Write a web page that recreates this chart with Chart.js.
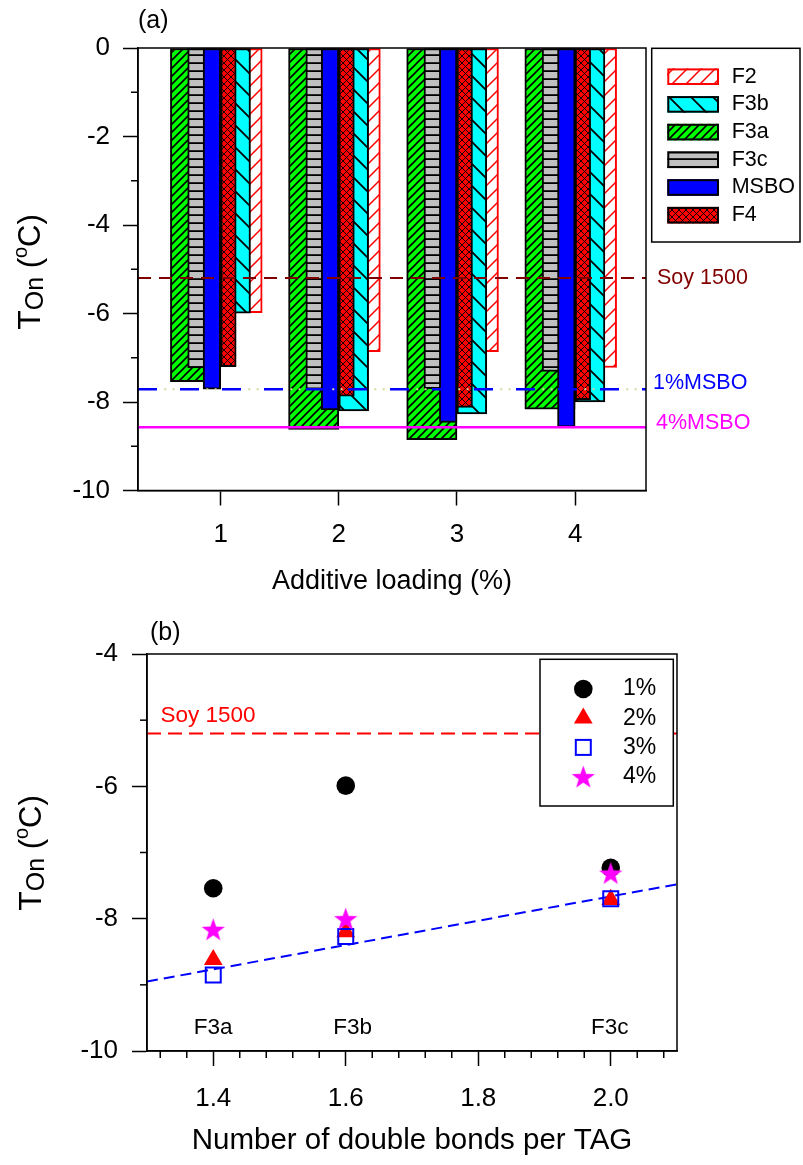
<!DOCTYPE html>
<html>
<head>
<meta charset="utf-8">
<title>Onset crystallization temperature</title>
<script src="https://cdn.jsdelivr.net/npm/chart.js@4.4.1/dist/chart.umd.min.js"></script>
<style>
  html, body { margin: 0; padding: 0; background: #ffffff; }
  .panel { position: absolute; left: 0; }
  #panelA { top: 0; }
  #panelB { top: 600px; }
</style>
</head>
<body>
<canvas id="panelA" class="panel" width="803" height="600"></canvas>
<canvas id="panelB" class="panel" width="803" height="565"></canvas>
<script>
// ---------- panel (a): onset temperature vs additive loading ----------
const loadings = [1, 2, 3, 4];
const seriesNames = ['F2', 'F3b', 'F3a', 'F3c', 'MSBO', 'F4'];
const f2   = [-5.98, -6.86, -6.86, -7.22];
const f3b  = [-5.99, -8.20, -8.27, -8.00];
const f3a  = [-7.54, -8.62, -8.85, -8.16];
const f3c  = [-7.23, -7.71, -7.70, -7.31];
const msbo = [-7.71, -8.18, -8.46, -8.57];
const f4   = [-7.20, -7.87, -8.12, -7.95];
const yTicksA = [-10, -8, -6, -4, -2, 0];
const soy1500 = -5.2;
const refLabels = ['Soy 1500', '1%MSBO', '4%MSBO'];
const refValues = [soy1500, msbo[0], msbo[3]];

// ---------- panel (b): onset temperature vs unsaturation ----------
const doubleBonds = [1.4, 1.6, 2.0];
const fractionNames = ['F3a', 'F3b', 'F3c'];
const loadingLabels = ['1%', '2%', '3%', '4%'];
const fitX = [1.3, 2.1];
const fitY = [-8.95, -7.48];
const xTicksB = [1.4, 1.6, 1.8, 2.0];
const yTicksB = [-10, -8, -6, -4];

const FONT = "'Liberation Sans', Arial, Helvetica, sans-serif";
Chart.defaults.font.family = FONT;
Chart.defaults.color = '#000000';

// ---------- fill patterns ----------
function tile(size, bg, fg, lw, strokes) {
  const c = document.createElement('canvas');
  c.width = size; c.height = size;
  const g = c.getContext('2d');
  g.fillStyle = bg; g.fillRect(0, 0, size, size);
  g.strokeStyle = fg; g.lineWidth = lw;
  g.beginPath();
  strokes.forEach(k => {
    if (k === '/') [-size, 0, size].forEach(o => { g.moveTo(o - 1, size + 1); g.lineTo(o + size + 1, -1); });
    if (k === '\\') [-size, 0, size].forEach(o => { g.moveTo(o - 1, -1); g.lineTo(o + size + 1, size + 1); });
    if (k === '-') { g.moveTo(0, size - lw / 2); g.lineTo(size, size - lw / 2); }
  });
  g.stroke();
  return g.createPattern(c, 'repeat');
}

const fills = {
  F2:   tile(14, '#ffffff', '#ff0000', 1.5, ['/']),
  F3b:  tile(22, '#00ffff', '#000000', 1.8, ['\\']),
  F3a:  tile(8,  '#00ff00', '#000000', 1.6, ['/']),
  F3c:  tile(8,  '#c0c0c0', '#000000', 1.8, ['-']),
  MSBO: '#0000ff',
  F4:   tile(7,  '#ff0000', '#000000', 0.9, ['/', '\\'])
};
const edges = { F2: '#ff0000', F3b: '#000000', F3a: '#000000', F3c: '#000000', MSBO: '#000000', F4: '#000000' };
const valuesA = { F2: f2, F3b: f3b, F3a: f3a, F3c: f3c, MSBO: msbo, F4: f4 };

// bar placement around each loading tick: [centre offset px, width px, draw order]
const barGeom = {
  F2:   [20.75, 41.5, 5],
  F3b:  [14.9, 29.8, 4],
  F3a:  [-25.15, 50.3, 2],
  F3c:  [-16.5, 33, 1],
  MSBO: [-8.8, 17.6, 0],
  F4:   [7.75, 15.5, 3]
};

const areaA = { left: 138, right: 646, top: 48, bottom: 490.5 };
const xRangeA = [0.3, 4.6];
const pxPerUnitA = (areaA.right - areaA.left) / (xRangeA[1] - xRangeA[0]);

function line(ctx, x1, y1, x2, y2) {
  ctx.beginPath(); ctx.moveTo(x1, y1); ctx.lineTo(x2, y2); ctx.stroke();
}

// rotated "T_On (°C)" title
function drawAxisTitle(ctx, x, cy) {
  const parts = [
    { t: 'T', f: 32, dy: 0 },
    { t: 'On', f: 25, dy: 3 },
    { t: ' (', f: 31, dy: 0 },
    { t: 'o', f: 20, dy: -13 },
    { t: 'C)', f: 31, dy: 0 }
  ];
  ctx.save();
  ctx.fillStyle = '#000000';
  ctx.textBaseline = 'alphabetic';
  ctx.textAlign = 'left';
  let total = 0;
  parts.forEach(p => { ctx.font = p.f + 'px ' + FONT; p.w = ctx.measureText(p.t).width; total += p.w; });
  ctx.translate(x, cy);
  ctx.rotate(-Math.PI / 2);
  let px = -total / 2;
  parts.forEach(p => { ctx.font = p.f + 'px ' + FONT; ctx.fillText(p.t, px, p.dy); px += p.w; });
  ctx.restore();
}

const axisGrid = { display: true, drawOnChartArea: false, drawTicks: true, offset: false, tickLength: 15, tickWidth: 1.5, tickColor: '#000000' };
const axisBorder = { display: true, color: '#000000', width: 1.5 };

// ---------- chart (a) ----------
const scalesA = {
  x: {
    type: 'linear', position: 'bottom', min: xRangeA[0], max: xRangeA[1], offset: false,
    afterBuildTicks: s => { s.ticks = loadings.map(v => ({ value: v })); },
    afterFit: s => { s.height = 600 - areaA.bottom; },
    grid: axisGrid, border: axisBorder,
    ticks: { font: { size: 26 }, padding: 14, maxRotation: 0, autoSkip: false, callback: v => String(v) },
    title: { display: true, text: 'Additive loading (%)', font: { size: 27 }, padding: { top: 0, bottom: 2 } }
  },
  y: {
    type: 'linear', min: -10, max: 0,
    afterBuildTicks: s => { s.ticks = yTicksA.map(v => ({ value: v })); },
    afterFit: s => { s.width = areaA.left; },
    grid: axisGrid, border: axisBorder,
    ticks: { font: { size: 26 }, padding: 13, callback: v => String(v) }
  }
};
seriesNames.forEach(n => {
  const shift = barGeom[n][0] / pxPerUnitA;
  scalesA['x_' + n] = { type: 'linear', display: false, offset: false, min: xRangeA[0] - shift, max: xRangeA[1] - shift };
});

const refStyles = [
  { color: '#800000', width: 2, dash: [13, 8], dx: 11, dy: 0 },
  { color: '#0000ff', width: 2.5, dash: [19, 23], dx: 7, dy: -6 },
  { color: '#ff00ff', width: 2.5, dash: [], dx: 10, dy: -4 }
];

const panelAPlugin = {
  id: 'panelADecor',
  afterDatasetsDraw(chart) {
    const { ctx, chartArea: a, scales: { y } } = chart;
    ctx.save();
    refValues.forEach((v, i) => {
      const st = refStyles[i];
      const py = y.getPixelForValue(v);
      ctx.strokeStyle = st.color; ctx.lineWidth = st.width; ctx.setLineDash(st.dash);
      line(ctx, a.left, py, a.right, py);
      if (i === 1) {
        ctx.strokeStyle = '#d6d6a0'; ctx.lineWidth = 2;
        ctx.setLineDash([2, 6.3, 2, 31.7]); ctx.lineDashOffset = -26.3;
        line(ctx, a.left, py, a.right, py);
        ctx.lineDashOffset = 0;
      }
    });
    ctx.setLineDash([]);
    ctx.strokeStyle = '#000000'; ctx.lineWidth = 1.5;
    ctx.strokeRect(a.left, a.top, a.right - a.left, a.bottom - a.top);
    for (let v = -9; v <= -1; v += 2) {
      const py = y.getPixelForValue(v);
      line(ctx, a.left - 7, py, a.left, py);
    }
    ctx.restore();
  },
  afterDraw(chart) {
    const { ctx, chartArea: a, scales: { y } } = chart;
    ctx.save();
    // reference line captions
    ctx.font = '21.5px ' + FONT; ctx.textAlign = 'left'; ctx.textBaseline = 'middle';
    refValues.forEach((v, i) => {
      ctx.fillStyle = refStyles[i].color;
      ctx.fillText(refLabels[i], a.right + refStyles[i].dx, y.getPixelForValue(v) + refStyles[i].dy);
    });
    // legend
    const lx = 651.7, ly = 48.3, lw = 148.3, lh = 193.7;
    ctx.fillStyle = '#ffffff'; ctx.fillRect(lx, ly, lw, lh);
    ctx.strokeStyle = '#000000'; ctx.lineWidth = 1.5; ctx.strokeRect(lx, ly, lw, lh);
    seriesNames.forEach((n, i) => {
      const cy = 76.7 + i * 27.7;
      ctx.fillStyle = fills[n];
      ctx.fillRect(667.3, cy - 8.3, 51.7, 16.6);
      ctx.strokeStyle = edges[n]; ctx.lineWidth = 2;
      ctx.strokeRect(668.3, cy - 7.3, 49.7, 14.6);
      ctx.fillStyle = '#000000'; ctx.font = '21.5px ' + FONT;
      ctx.fillText(n, 731.7, cy);
    });
    // panel letter and axis title
    ctx.font = '25px ' + FONT; ctx.fillStyle = '#000000';
    ctx.fillText('(a)', 138, 21);
    ctx.restore();
    drawAxisTitle(ctx, 40, 272);
  }
};

new Chart(document.getElementById('panelA'), {
  type: 'bar',
  data: {
    datasets: seriesNames.map(n => ({
      label: n,
      data: loadings.map((x, i) => ({ x: x, y: valuesA[n][i] })),
      xAxisID: 'x_' + n,
      backgroundColor: fills[n],
      borderColor: edges[n],
      borderWidth: 2,
      borderSkipped: false,
      barThickness: barGeom[n][1],
      grouped: false,
      order: barGeom[n][2]
    }))
  },
  options: {
    responsive: false, animation: false, devicePixelRatio: 1, events: [],
    layout: { padding: { top: areaA.top, left: 0, right: 803 - areaA.right, bottom: 0 } },
    plugins: { legend: { display: false }, tooltip: { enabled: false } },
    scales: scalesA
  },
  plugins: [panelAPlugin]
});

// ---------- chart (b) ----------
const areaB = { left: 147, right: 677, top: 54, bottom: 451 };
const onsetByLoading = loadings.map((_, j) => [f3a[j], f3b[j], f3c[j]]);

function starCanvas(R, r, color) {
  const size = Math.ceil(2 * R) + 2;
  const c = document.createElement('canvas');
  c.width = size; c.height = size;
  const g = c.getContext('2d');
  g.fillStyle = color;
  g.beginPath();
  for (let k = 0; k < 10; k++) {
    const ang = -Math.PI / 2 + k * Math.PI / 5;
    const rad = k % 2 === 0 ? R : r;
    g.lineTo(size / 2 + rad * Math.cos(ang), size / 2 + 0.095 * R + rad * Math.sin(ang));
  }
  g.closePath(); g.fill();
  return c;
}
const star = starCanvas(12.2, 4.9, '#ff00ff');

const markerStyles = [
  { pointStyle: 'circle', pointRadius: 9.3, backgroundColor: '#000000', borderColor: '#000000', borderWidth: 0 },
  { pointStyle: 'triangle', pointRadius: 10.8, backgroundColor: '#ff0000', borderColor: '#ff0000', borderWidth: 0 },
  { pointStyle: 'rect', pointRadius: 10.6, backgroundColor: 'rgba(0,0,0,0)', borderColor: '#0000ff', borderWidth: 2 },
  { pointStyle: star, pointRadius: 12, backgroundColor: '#ff00ff', borderColor: '#ff00ff', borderWidth: 0 }
];

function drawMarker(ctx, k, x, y) {
  const m = markerStyles[k];
  ctx.save();
  ctx.fillStyle = m.backgroundColor; ctx.strokeStyle = m.borderColor; ctx.lineWidth = m.borderWidth;
  ctx.beginPath();
  if (k === 0) { ctx.arc(x, y, m.pointRadius, 0, Math.PI * 2); ctx.fill(); }
  if (k === 1) {
    const r = m.pointRadius;
    ctx.moveTo(x, y - r); ctx.lineTo(x + r * Math.sin(2 * Math.PI / 3), y + r / 2);
    ctx.lineTo(x - r * Math.sin(2 * Math.PI / 3), y + r / 2); ctx.closePath(); ctx.fill();
  }
  if (k === 2) { const s = m.pointRadius * Math.SQRT1_2; ctx.strokeRect(x - s, y - s, 2 * s, 2 * s); }
  if (k === 3) { ctx.drawImage(star, x - star.width / 2, y - star.height / 2); }
  ctx.restore();
}

const panelBPlugin = {
  id: 'panelBDecor',
  beforeDatasetsDraw(chart) {
    const { ctx, chartArea: a, scales: { y } } = chart;
    const py = y.getPixelForValue(soy1500);
    ctx.save();
    ctx.strokeStyle = '#ff0000'; ctx.lineWidth = 2; ctx.setLineDash([14, 7]);
    line(ctx, a.left, py, a.right, py);
    ctx.setLineDash([]);
    ctx.fillStyle = '#ff0000'; ctx.font = '22.5px ' + FONT; ctx.textAlign = 'left'; ctx.textBaseline = 'middle';
    ctx.fillText('Soy 1500', a.left + 13.5, py - 17.7);
    ctx.restore();
  },
  afterDatasetsDraw(chart) {
    const { ctx, chartArea: a, scales: { x, y } } = chart;
    ctx.save();
    ctx.strokeStyle = '#000000'; ctx.lineWidth = 1.5;
    ctx.strokeRect(a.left, a.top, a.right - a.left, a.bottom - a.top);
    for (let v = -9; v <= -5; v += 2) {
      const py = y.getPixelForValue(v);
      line(ctx, a.left - 7, py, a.left, py);
    }
    for (let k = 33; k <= 52; k++) {
      if (k % 5 === 0) continue;
      const px = x.getPixelForValue(k * 0.04);
      line(ctx, px, a.bottom, px, a.bottom + 7);
    }
    // fraction captions
    const capShift = [0, 7, -1];
    ctx.fillStyle = '#000000'; ctx.font = '22.5px ' + FONT; ctx.textAlign = 'center'; ctx.textBaseline = 'middle';
    fractionNames.forEach((n, i) => {
      ctx.fillText(n, x.getPixelForValue(doubleBonds[i]) + capShift[i], y.getPixelForValue(-9.65));
    });
    // legend
    const lx = 540, ly = 59.3, lw = 133.3, lh = 146.7;
    ctx.fillStyle = '#ffffff'; ctx.fillRect(lx, ly, lw, lh);
    ctx.strokeStyle = '#000000'; ctx.lineWidth = 1.5; ctx.strokeRect(lx, ly, lw, lh);
    loadingLabels.forEach((t, k) => {
      const cy = 89 + k * 29.2;
      drawMarker(ctx, k, 583.3, cy);
      ctx.fillStyle = '#000000'; ctx.font = '23px ' + FONT; ctx.textAlign = 'left'; ctx.textBaseline = 'middle';
      ctx.fillText(t, 623, cy);
    });
    ctx.restore();
  },
  afterDraw(chart) {
    const { ctx } = chart;
    ctx.save();
    ctx.font = '25px ' + FONT; ctx.fillStyle = '#000000'; ctx.textAlign = 'left'; ctx.textBaseline = 'middle';
    ctx.fillText('(b)', 150, 33);
    ctx.restore();
    drawAxisTitle(ctx, 41, 253);
  }
};

const datasetsB = loadingLabels.map((lab, k) => Object.assign({
  label: lab,
  data: doubleBonds.map((xv, i) => ({ x: xv, y: onsetByLoading[k][i] })),
  order: 4 - k
}, markerStyles[k]));
datasetsB.push({
  type: 'line',
  label: 'fit',
  data: fitX.map((xv, i) => ({ x: xv, y: fitY[i] })),
  showLine: true, fill: false,
  borderColor: '#0000ff', borderWidth: 2, borderDash: [11, 6],
  pointRadius: 0, order: 10
});

new Chart(document.getElementById('panelB'), {
  type: 'scatter',
  data: { datasets: datasetsB },
  options: {
    responsive: false, animation: false, devicePixelRatio: 1, events: [],
    layout: { padding: { top: areaB.top, left: 0, right: 803 - areaB.right, bottom: 0 } },
    plugins: { legend: { display: false }, tooltip: { enabled: false } },
    scales: {
      x: {
        type: 'linear', position: 'bottom', min: 1.3, max: 2.1, offset: false,
        afterBuildTicks: s => { s.ticks = xTicksB.map(v => ({ value: v })); },
        afterFit: s => { s.height = 565 - areaB.bottom; },
        grid: axisGrid, border: axisBorder,
        ticks: { font: { size: 26 }, padding: 17, maxRotation: 0, autoSkip: false, callback: v => v.toFixed(1) },
        title: { display: true, text: 'Number of double bonds per TAG', font: { size: 29.5 }, padding: { top: 0, bottom: 6 } }
      },
      y: {
        type: 'linear', min: -10, max: -4,
        afterBuildTicks: s => { s.ticks = yTicksB.map(v => ({ value: v })); },
        afterFit: s => { s.width = areaB.left; },
        grid: axisGrid, border: axisBorder,
        ticks: { font: { size: 26 }, padding: 14, callback: v => String(v) }
      }
    }
  },
  plugins: [panelBPlugin]
});
</script>
</body>
</html>
